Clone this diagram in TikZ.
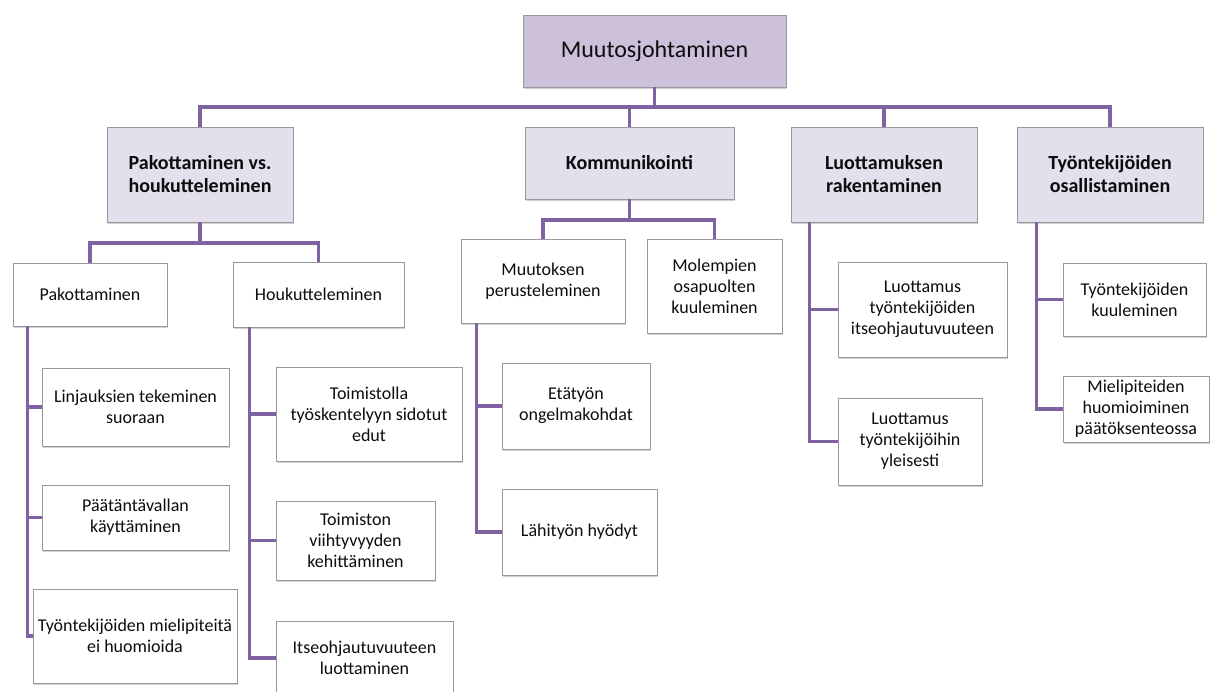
\documentclass[tikz,border=0pt]{standalone}
\usepackage{fontspec}
\setmainfont{Carlito}
\usetikzlibrary{shadows,calc}
\definecolor{topfill}{HTML}{CCC0DA}
\definecolor{midfill}{HTML}{E4DFEC}
\definecolor{linec}{HTML}{7F62A1}
\definecolor{boxline}{HTML}{999999}
\definecolor{txt}{HTML}{0D0D0D}
\begin{document}
\begin{tikzpicture}[x=1pt,y=-1pt,
  box/.style={draw=boxline, line width=0.8pt, fill=white, align=center, inner sep=1pt, text=txt,
    drop shadow={shadow xshift=1.2pt, shadow yshift=-1.8pt, fill=black!40, opacity=0.45}},
  topbox/.style={box, fill=topfill, font=\fontsize{24}{29}\selectfont},
  midbox/.style={box, fill=midfill, font=\fontsize{20}{23}\selectfont\bfseries},
  leaf/.style={box, font=\fontsize{18}{21}\selectfont},
  conn/.style={draw=linec, line width=3.6pt}]
\useasboundingbox (0,0) rectangle (1210,691);
\clip (0,0) rectangle (1210,691);
\fill[white] (0,0) rectangle (1210,691);

% nodes
\node[topbox, minimum width=263pt, minimum height=72pt] (top) at (654.5,51) {Muutosjohtaminen};

\node[midbox, minimum width=186pt, minimum height=95pt] (l2a) at (200,174.5) {Pakottaminen vs.\\houkutteleminen};
\node[midbox, minimum width=209pt, minimum height=72pt] (l2b) at (629.5,163) {Kommunikointi};
\node[midbox, minimum width=186pt, minimum height=95pt] (l2c) at (884,174.5) {Luottamuksen\\rakentaminen};
\node[midbox, minimum width=186pt, minimum height=95pt] (l2d) at (1110,174.5) {Työntekijöiden\\osallistaminen};

\node[leaf, minimum width=154pt, minimum height=63pt] (pak) at (90,294.5) {Pakottaminen};
\node[leaf, minimum width=171pt, minimum height=65pt] (hou) at (318.5,294.5) {Houkutteleminen};

\node[leaf, minimum width=187pt, minimum height=78pt] (p1) at (135.5,407) {Linjauksien tekeminen\\suoraan};
\node[leaf, minimum width=187pt, minimum height=65pt] (p2) at (135.5,517.5) {Päätäntävallan\\käyttäminen};
\node[leaf, minimum width=204pt, minimum height=94pt] (p3) at (135,636) {Työntekijöiden mielipiteitä\\ei huomioida};

\node[leaf, minimum width=186pt, minimum height=94pt] (h1) at (369,414) {Toimistolla\\työskentelyyn sidotut\\edut};
\node[leaf, minimum width=159pt, minimum height=79pt] (h2) at (355.5,540.5) {Toimiston\\viihtyvyyden\\kehittäminen};
\node[leaf, minimum width=177pt, minimum height=74pt] (h3) at (364.5,658) {Itseohjautuvuuteen\\luottaminen};

\node[leaf, minimum width=164pt, minimum height=84pt] (k1) at (543,281) {Muutoksen\\perusteleminen};
\node[leaf, minimum width=135pt, minimum height=94pt] (k2) at (714.5,286) {Molempien\\osapuolten\\kuuleminen};
\node[leaf, minimum width=148pt, minimum height=86pt] (k11) at (576,406) {Etätyön\\ongelmakohdat};
\node[leaf, minimum width=155pt, minimum height=86pt] (k12) at (579.5,532) {Lähityön hyödyt};

\node[leaf, minimum width=169pt, minimum height=95pt] (c1) at (922.5,309.5) {Luottamus\\työntekijöiden\\itseohjautuvuuteen};
\node[leaf, minimum width=144pt, minimum height=87pt] (c2) at (910,441.5) {Luottamus\\työntekijöihin\\yleisesti};

\node[leaf, minimum width=143pt, minimum height=73pt] (d1) at (1134.5,299.5) {Työntekijöiden\\kuuleminen};
\node[leaf, minimum width=146pt, minimum height=66pt] (d2) at (1136,409) {Mielipiteiden\\huomioiminen\\päätöksenteossa};

% connectors
\coordinate (bus0) at (0,107);
\coordinate (bus1) at (0,243);
\coordinate (bus2) at (0,220);

\draw[conn] (top.south) -- (top.south |- bus0);
\draw[conn] (l2a.north) |- (l2d.north |- bus0) -- (l2d.north);
\draw[conn] (l2b.north) -- (l2b.north |- bus0);
\draw[conn] (l2c.north) -- (l2c.north |- bus0);

\draw[conn] (l2a.south) -- (l2a.south |- bus1);
\draw[conn] (pak.north) |- (hou.north |- bus1) -- (hou.north);

\draw[conn] (l2b.south) -- (l2b.south |- bus2);
\draw[conn] (k1.north) |- (k2.north |- bus2) -- (k2.north);

\coordinate (rp) at ($(pak.south west)+(15,0)$);
\draw[conn] (rp) |- (p1.west);
\draw[conn] (rp) |- (p2.west);
\draw[conn] (rp) |- (p3.west);

\coordinate (rh) at ($(hou.south west)+(17,0)$);
\draw[conn] (rh) |- (h1.west);
\draw[conn] (rh) |- (h2.west);
\draw[conn] (rh) |- (h3.west);

\coordinate (rk) at ($(k1.south west)+(16,0)$);
\draw[conn] (rk) |- (k11.west);
\draw[conn] (rk) |- (k12.west);

\coordinate (rc) at ($(l2c.south west)+(19,0)$);
\draw[conn] (rc) |- (c1.west);
\draw[conn] (rc) |- (c2.west);

\coordinate (rd) at ($(l2d.south west)+(20,0)$);
\draw[conn] (rd) |- (d1.west);
\draw[conn] (rd) |- (d2.west);
\end{tikzpicture}
\end{document}
